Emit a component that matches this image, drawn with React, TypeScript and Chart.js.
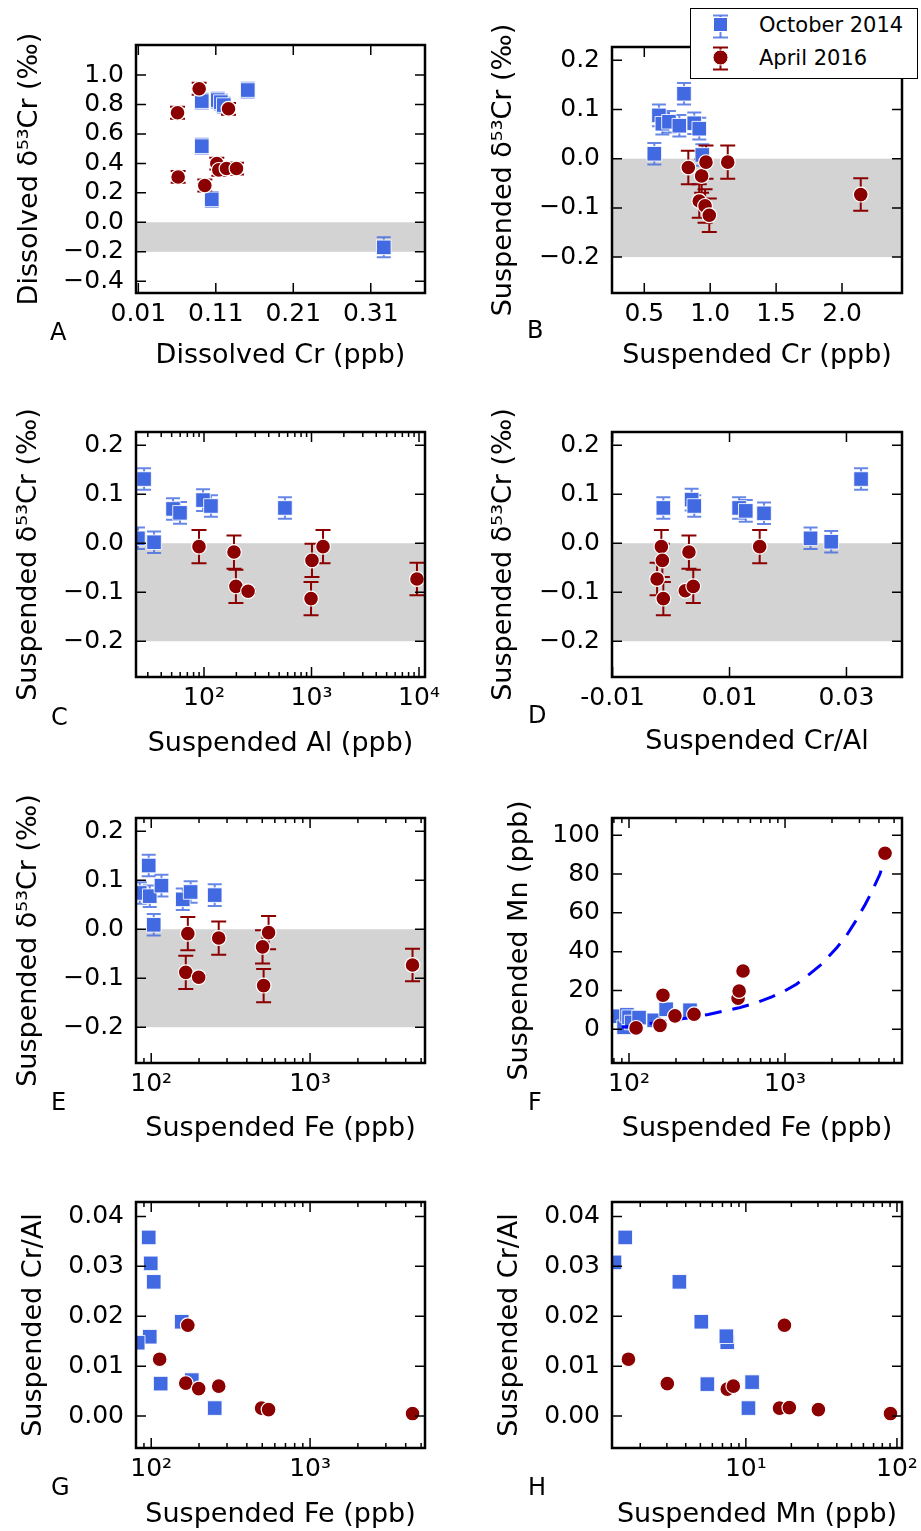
import React, { useEffect, useRef } from 'react';
import { Chart, registerables } from 'chart.js';

Chart.register(...registerables);

const FONT = 'DejaVu Sans';
const TICK_SIZE = 25;
const TITLE_SIZE = 27;
const BLUE = '#4169e1';
const RED = '#8b0000';

const seriesNames = ['October 2014', 'April 2016'];
const bandRange = [-0.2, 0];

// ---------- tick values / labels ----------
const aXTicks = [0.01, 0.11, 0.21, 0.31];
const aXLabels = ['0.01', '0.11', '0.21', '0.31'];
const aYTicks = [1.0, 0.8, 0.6, 0.4, 0.2, 0.0, -0.2, -0.4];
const aYLabels = ['1.0', '0.8', '0.6', '0.4', '0.2', '0.0', '\u22120.2', '\u22120.4'];
const d53Ticks = [0.2, 0.1, 0.0, -0.1, -0.2];
const d53Labels = ['0.2', '0.1', '0.0', '\u22120.1', '\u22120.2'];
const bXTicks = [0.5, 1.0, 1.5, 2.0];
const bXLabels = ['0.5', '1.0', '1.5', '2.0'];
const cXTicks = [100, 1000, 10000];
const cXLabels = ['10\u00b2', '10\u00b3', '10\u2074'];
const dXTicks = [-0.01, 0.01, 0.03];
const dXLabels = ['-0.01', '0.01', '0.03'];
const feTicks = [100, 1000];
const feLabels = ['10\u00b2', '10\u00b3'];
const mnYTicks = [100, 80, 60, 40, 20, 0];
const mnYLabels = ['100', '80', '60', '40', '20', '0'];
const crAlTicks = [0.04, 0.03, 0.02, 0.01, 0.0];
const crAlLabels = ['0.04', '0.03', '0.02', '0.01', '0.00'];
const mnXTicks = [10, 100];
const mnXLabels = ['10\u00b9', '10\u00b2'];

// ---------- Panel A : dissolved ----------
const aBlueCr = [0.0919, 0.1126, 0.1165, 0.1203, 0.1513, 0.0919, 0.1048, 0.3268];
const aBlueD53 = [0.823, 0.830, 0.816, 0.796, 0.898, 0.517, 0.156, -0.170];
const aBlueErr = [0.05, 0.05, 0.05, 0.05, 0.05, 0.05, 0.05, 0.068];
const aRedCr = [0.0885, 0.0606, 0.1264, 0.0614, 0.0958, 0.1113, 0.1139, 0.1238, 0.1367];
const aRedD53 = [0.907, 0.744, 0.771, 0.308, 0.250, 0.399, 0.356, 0.365, 0.365];
const aRedErr = [0.04, 0.04, 0.04, 0.04, 0.04, 0.04, 0.04, 0.04, 0.04];

// ---------- Panel B : suspended Cr ----------
const bBlueCr = [0.576, 0.611, 0.637, 0.687, 0.766, 0.801, 0.879, 0.917, 0.940];
const bBlueD53 = [0.010, 0.088, 0.071, 0.075, 0.067, 0.132, 0.072, 0.061, 0.0075];
const bBlueErr = [0.022, 0.022, 0.022, 0.022, 0.022, 0.022, 0.022, 0.022, 0.022];
const bRedCr = [0.834, 0.935, 0.917, 0.961, 0.993, 0.968, 1.133, 2.142];
const bRedD53 = [-0.018, -0.035, -0.086, -0.096, -0.115, -0.007, -0.007, -0.073];
const bRedErr = [0.034, 0.034, 0.034, 0.034, 0.034, 0.034, 0.034, 0.033];

// ---------- Panel C : suspended Al ----------
const cBlueAl = [24.3, 27.7, 34.3, 51.5, 59.8, 97.9, 116, 566];
const cBlueD53 = [0.010, 0.131, 0.002, 0.070, 0.062, 0.088, 0.076, 0.072];
const cBlueErr = [0.022, 0.022, 0.022, 0.022, 0.022, 0.022, 0.022, 0.022];
const cRedAl = [89.8, 190, 198, 257, 1010, 990, 1280, 9570];
const cRedD53 = [-0.007, -0.018, -0.088, -0.098, -0.035, -0.113, -0.007, -0.073];
const cRedErr = [0.034, 0.034, 0.034, 0.004, 0.034, 0.034, 0.034, 0.033];

// ---------- Panel D : suspended Cr/Al ----------
const dBlueCrAl = [-0.00132, 0.00352, 0.00397, 0.01164, 0.01278, 0.0159, 0.02386, 0.02739, 0.0325];
const dBlueD53 = [0.072, 0.089, 0.076, 0.072, 0.066, 0.061, 0.010, 0.003, 0.131];
const dBlueErr = [0.022, 0.022, 0.022, 0.022, 0.022, 0.022, 0.022, 0.022, 0.022];
const dRedCrAl = [-0.00239, -0.00166, -0.00149, -0.00132, 0.00243, 0.00306, 0.0038, 0.01516];
const dRedD53 = [-0.073, -0.007, -0.035, -0.113, -0.097, -0.018, -0.088, -0.007];
const dRedErr = [0.033, 0.034, 0.034, 0.034, 0.004, 0.034, 0.034, 0.034];

// ---------- Panel E : suspended Fe ----------
const eBlueFe = [84.7, 96.4, 97.9, 116, 103.7, 158, 177, 251];
const eBlueD53 = [0.074, 0.130, 0.0675, 0.089, 0.009, 0.061, 0.076, 0.0696];
const eBlueErr = [0.022, 0.022, 0.022, 0.022, 0.022, 0.022, 0.022, 0.022];
const eRedFe = [170, 165, 199, 266, 502, 510, 548, 4415];
const eRedD53 = [-0.009, -0.088, -0.098, -0.018, -0.036, -0.115, -0.007, -0.073];
const eRedErr = [0.034, 0.034, 0.004, 0.034, 0.034, 0.034, 0.034, 0.033];

// ---------- Panel F : Mn vs Fe ----------
const fBlueFe = [84, 93, 97, 100, 104, 116, 145, 173, 246];
const fBlueMn = [6.7, 1.0, 7.4, 6.2, 3.5, 6.0, 4.6, 10.3, 9.8];
const fRedFe = [111, 158, 165, 197, 261, 500, 508, 538, 4375];
const fRedMn = [0.7, 2.0, 17.5, 6.9, 7.7, 16.0, 19.7, 30.0, 90.7];
const fFitFe = [90, 115, 158, 207, 258, 322, 402, 515, 643, 822, 1000, 1190, 1448, 1715, 2146, 2485, 2809, 3264, 3610, 4060, 4400];
const fFitMn = [1.0, 2.1, 3.8, 5.2, 6.2, 7.6, 9.3, 11.2, 13.4, 16.7, 19.8, 23.3, 28.7, 33.5, 42.0, 48.5, 55.2, 64.3, 71.1, 80.0, 89.5];

// ---------- Panel G : Cr/Al vs Fe ----------
const gBlueFe = [96.4, 99.3, 103.7, 155.6, 97.9, 82.2, 114.7, 180, 251];
const gBlueCrAl = [0.0358, 0.0306, 0.0269, 0.0189, 0.0159, 0.0147, 0.0065, 0.0072, 0.0016];
const gRedFe = [113, 165, 170, 199, 266, 495, 548, 4415];
const gRedCrAl = [0.0114, 0.0066, 0.0182, 0.0055, 0.006, 0.0016, 0.0013, 0.0005];

// ---------- Panel H : Cr/Al vs Mn ----------
const hBlueMn = [1.35, 1.59, 3.63, 5.07, 7.53, 7.43, 5.56, 11.0, 10.4];
const hBlueCrAl = [0.0308, 0.0358, 0.0269, 0.0189, 0.0148, 0.016, 0.0064, 0.0068, 0.0016];
const hRedMn = [1.67, 3.02, 7.53, 8.26, 16.7, 18.0, 19.4, 30.2, 90.6];
const hRedCrAl = [0.0114, 0.0065, 0.0054, 0.006, 0.0016, 0.0182, 0.0017, 0.0013, 0.0005];

type Rect = { l: number; t: number; r: number; b: number };
type Box = { x: number; y: number; w: number; h: number };
type Series = { x: number[]; y: number[]; err?: number[] };
type Spec = {
  key: string;
  box: Box;
  plot: Rect;
  xType: 'linear' | 'logarithmic';
  xMin: number; xMax: number; xTicks: number[]; xLabels: string[];
  yMin: number; yMax: number; yTicks: number[]; yLabels: string[];
  xTitle: string; yTitle: string; xTitleMid: number; yTitleMid: number;
  blue: Series; red: Series; band?: number[]; fit?: Series;
};

const D53_TITLE = 'Suspended \u03b4\u2075\u00b3Cr (\u2030)';

const specs: Spec[] = [
  {
    key: 'A', box: { x: 0, y: 0, w: 460, h: 383 }, plot: { l: 136, t: 45, r: 425, b: 293 },
    xType: 'linear', xMin: 0.007, xMax: 0.38, xTicks: aXTicks, xLabels: aXLabels,
    yMin: -0.48, yMax: 1.204, yTicks: aYTicks, yLabels: aYLabels,
    xTitle: 'Dissolved Cr (ppb)', yTitle: 'Dissolved \u03b4\u2075\u00b3Cr (\u2030)', xTitleMid: 356, yTitleMid: 30,
    blue: { x: aBlueCr, y: aBlueD53, err: aBlueErr }, red: { x: aRedCr, y: aRedD53, err: aRedErr }, band: bandRange,
  },
  {
    key: 'B', box: { x: 460, y: 0, w: 461, h: 383 }, plot: { l: 612, t: 47, r: 902, b: 293 },
    xType: 'linear', xMin: 0.255, xMax: 2.455, xTicks: bXTicks, xLabels: bXLabels,
    yMin: -0.273, yMax: 0.227, yTicks: d53Ticks, yLabels: d53Labels,
    xTitle: 'Suspended Cr (ppb)', yTitle: D53_TITLE, xTitleMid: 356, yTitleMid: 503.5,
    blue: { x: bBlueCr, y: bBlueD53, err: bBlueErr }, red: { x: bRedCr, y: bRedD53, err: bRedErr }, band: bandRange,
  },
  {
    key: 'C', box: { x: 0, y: 383, w: 460, h: 385 }, plot: { l: 136, t: 432, r: 425, b: 677 },
    xType: 'logarithmic', xMin: 23.3, xMax: 11370, xTicks: cXTicks, xLabels: cXLabels,
    yMin: -0.273, yMax: 0.227, yTicks: d53Ticks, yLabels: d53Labels,
    xTitle: 'Suspended Al (ppb)', yTitle: D53_TITLE, xTitleMid: 744, yTitleMid: 28.5,
    blue: { x: cBlueAl, y: cBlueD53, err: cBlueErr }, red: { x: cRedAl, y: cRedD53, err: cRedErr }, band: bandRange,
  },
  {
    key: 'D', box: { x: 460, y: 383, w: 461, h: 385 }, plot: { l: 612, t: 432, r: 902, b: 677 },
    xType: 'linear', xMin: -0.0101, xMax: 0.0395, xTicks: dXTicks, xLabels: dXLabels,
    yMin: -0.273, yMax: 0.227, yTicks: d53Ticks, yLabels: d53Labels,
    xTitle: 'Suspended Cr/Al', yTitle: D53_TITLE, xTitleMid: 742, yTitleMid: 503.5,
    blue: { x: dBlueCrAl, y: dBlueD53, err: dBlueErr }, red: { x: dRedCrAl, y: dRedD53, err: dRedErr }, band: bandRange,
  },
  {
    key: 'E', box: { x: 0, y: 768, w: 460, h: 382 }, plot: { l: 136, t: 818, r: 425, b: 1063 },
    xType: 'logarithmic', xMin: 80.2, xMax: 5290, xTicks: feTicks, xLabels: feLabels,
    yMin: -0.273, yMax: 0.227, yTicks: d53Ticks, yLabels: d53Labels,
    xTitle: 'Suspended Fe (ppb)', yTitle: D53_TITLE, xTitleMid: 1129, yTitleMid: 28.5,
    blue: { x: eBlueFe, y: eBlueD53, err: eBlueErr }, red: { x: eRedFe, y: eRedD53, err: eRedErr }, band: bandRange,
  },
  {
    key: 'F', box: { x: 460, y: 768, w: 461, h: 382 }, plot: { l: 612, t: 818, r: 902, b: 1063 },
    xType: 'logarithmic', xMin: 77.8, xMax: 5620, xTicks: feTicks, xLabels: feLabels,
    yMin: -17.4, yMax: 108.9, yTicks: mnYTicks, yLabels: mnYLabels,
    xTitle: 'Suspended Fe (ppb)', yTitle: 'Suspended Mn (ppb)', xTitleMid: 1129, yTitleMid: 520,
    blue: { x: fBlueFe, y: fBlueMn }, red: { x: fRedFe, y: fRedMn }, fit: { x: fFitFe, y: fFitMn },
  },
  {
    key: 'G', box: { x: 0, y: 1150, w: 460, h: 381 }, plot: { l: 136, t: 1202, r: 425, b: 1448 },
    xType: 'logarithmic', xMin: 80.2, xMax: 5290, xTicks: feTicks, xLabels: feLabels,
    yMin: -0.0064, yMax: 0.0429, yTicks: crAlTicks, yLabels: crAlLabels,
    xTitle: 'Suspended Fe (ppb)', yTitle: 'Suspended Cr/Al', xTitleMid: 1515, yTitleMid: 33.5,
    blue: { x: gBlueFe, y: gBlueCrAl }, red: { x: gRedFe, y: gRedCrAl },
  },
  {
    key: 'H', box: { x: 460, y: 1150, w: 461, h: 381 }, plot: { l: 612, t: 1202, r: 902, b: 1448 },
    xType: 'logarithmic', xMin: 1.3, xMax: 108, xTicks: mnXTicks, xLabels: mnXLabels,
    yMin: -0.0064, yMax: 0.0429, yTicks: crAlTicks, yLabels: crAlLabels,
    xTitle: 'Suspended Mn (ppb)', yTitle: 'Suspended Cr/Al', xTitleMid: 1515, yTitleMid: 510,
    blue: { x: hBlueMn, y: hBlueCrAl }, red: { x: hRedMn, y: hRedCrAl },
  },
];

const letters = [
  { t: 'A', x: 50, base: 340 }, { t: 'B', x: 527, base: 338 },
  { t: 'C', x: 51, base: 725 }, { t: 'D', x: 528, base: 723 },
  { t: 'E', x: 51, base: 1110 }, { t: 'F', x: 528, base: 1110 },
  { t: 'G', x: 51, base: 1495 }, { t: 'H', x: 528, base: 1495 },
];

function minorLogTicks(min: number, max: number): number[] {
  const out: number[] = [];
  for (let k = Math.floor(Math.log10(min)); k <= Math.ceil(Math.log10(max)); k++) {
    for (let m = 2; m <= 9; m++) {
      const v = m * Math.pow(10, k);
      if (v > min && v < max) out.push(v);
    }
  }
  return out;
}

function decor(s: Spec) {
  return {
    id: 'decor' + s.key,
    beforeDatasetsDraw(chart: any) {
      const { ctx, chartArea: a, scales } = chart;
      const xs = scales.x, ys = scales.y;
      ctx.save();
      ctx.beginPath();
      ctx.rect(a.left, a.top, a.right - a.left, a.bottom - a.top);
      ctx.clip();
      if (s.band) {
        const y0 = ys.getPixelForValue(s.band[0]);
        const y1 = ys.getPixelForValue(s.band[1]);
        ctx.fillStyle = '#d3d3d3';
        ctx.fillRect(a.left, Math.min(y0, y1), a.right - a.left, Math.abs(y1 - y0));
      }
      const drawErr = (ser: Series, color: string, cap: number) => {
        if (!ser.err) return;
        ctx.strokeStyle = color;
        ctx.lineWidth = 2;
        ser.x.forEach((xv, i) => {
          const px = xs.getPixelForValue(xv);
          const yt = ys.getPixelForValue(ser.y[i] + ser.err![i]);
          const yb = ys.getPixelForValue(ser.y[i] - ser.err![i]);
          ctx.beginPath();
          ctx.moveTo(px, yt); ctx.lineTo(px, yb);
          ctx.moveTo(px - cap, yt); ctx.lineTo(px + cap, yt);
          ctx.moveTo(px - cap, yb); ctx.lineTo(px + cap, yb);
          ctx.stroke();
        });
      };
      drawErr(s.blue, 'rgba(65,105,225,0.8)', 7);
      drawErr(s.red, RED, 7.5);
      ctx.restore();
    },
    afterDraw(chart: any) {
      const { ctx, chartArea: a, scales } = chart;
      const xs = scales.x, ys = scales.y;
      ctx.save();
      ctx.strokeStyle = '#000';
      ctx.lineWidth = 1.5;
      const major = 10, minor = 5;
      const xMark = (v: number, len: number) => {
        const px = xs.getPixelForValue(v);
        if (px < a.left - 0.5 || px > a.right + 0.5) return;
        ctx.beginPath();
        ctx.moveTo(px, a.bottom); ctx.lineTo(px, a.bottom - len);
        ctx.moveTo(px, a.top); ctx.lineTo(px, a.top + len);
        ctx.stroke();
      };
      const yMark = (v: number, len: number) => {
        const py = ys.getPixelForValue(v);
        if (py < a.top - 0.5 || py > a.bottom + 0.5) return;
        ctx.beginPath();
        ctx.moveTo(a.left, py); ctx.lineTo(a.left + len, py);
        ctx.moveTo(a.right, py); ctx.lineTo(a.right - len, py);
        ctx.stroke();
      };
      s.xTicks.forEach((v) => xMark(v, major));
      if (s.xType === 'logarithmic') minorLogTicks(s.xMin, s.xMax).forEach((v) => xMark(v, minor));
      s.yTicks.forEach((v) => yMark(v, major));
      ctx.lineWidth = 2.5;
      ctx.strokeRect(a.left, a.top, a.right - a.left, a.bottom - a.top);
      ctx.restore();
    },
  };
}

function buildConfig(s: Spec): any {
  const pts = (xs: number[], ys: number[]) => xs.map((x, i) => ({ x, y: ys[i] }));
  const datasets: any[] = [
    {
      label: seriesNames[1], data: pts(s.red.x, s.red.y), pointStyle: 'circle', pointRadius: 7.4,
      pointBorderWidth: 1.2, pointBackgroundColor: RED, pointBorderColor: '#ffffff', showLine: false, clip: 0,
    },
  ];
  if (s.fit) {
    datasets.push({
      label: 'fit', data: pts(s.fit.x, s.fit.y), showLine: true, borderColor: '#0000ff', borderWidth: 3,
      borderDash: [17, 11], pointRadius: 0, fill: false, tension: 0, clip: 0,
    });
  }
  datasets.push({
    label: seriesNames[0], data: pts(s.blue.x, s.blue.y), pointStyle: 'rect', pointRadius: 10.3,
    pointBorderWidth: 1, pointBackgroundColor: BLUE, pointBorderColor: 'rgba(255,255,255,0.85)', showLine: false, clip: 0,
  });

  const xAxisH = s.box.y + s.box.h - s.plot.b;
  const yAxisW = s.plot.l - s.box.x;
  const half = (TITLE_SIZE * 1.2) / 2;
  const xTitlePad = Math.max(0, s.box.y + s.box.h - s.xTitleMid - half);
  const yTitlePad = Math.max(0, s.yTitleMid - s.box.x - half);
  const tickFont = { family: FONT, size: TICK_SIZE };
  const titleFont = { family: FONT, size: TITLE_SIZE };

  return {
    type: 'scatter',
    data: { datasets },
    options: {
      responsive: false,
      animation: false,
      devicePixelRatio: 1,
      events: [],
      layout: { padding: { left: 0, top: s.plot.t - s.box.y, right: s.box.x + s.box.w - s.plot.r, bottom: 0 } },
      plugins: { legend: { display: false }, tooltip: { enabled: false } },
      scales: {
        x: {
          type: s.xType, position: 'bottom', min: s.xMin, max: s.xMax,
          grid: { display: false, drawTicks: false }, border: { display: false },
          afterBuildTicks: (sc: any) => { sc.ticks = s.xTicks.map((v) => ({ value: v })); },
          afterFit: (sc: any) => { sc.height = xAxisH; sc.paddingLeft = 0; sc.paddingRight = 0; sc.paddingTop = 0; sc.paddingBottom = 0; },
          ticks: {
            autoSkip: false, maxRotation: 0, minRotation: 0, padding: 6, color: '#000', font: tickFont,
            callback: (_v: any, i: number) => s.xLabels[i],
          },
          title: { display: true, text: s.xTitle, color: '#000', font: titleFont, padding: { top: 0, bottom: xTitlePad } },
        },
        y: {
          type: 'linear', position: 'left', min: s.yMin, max: s.yMax,
          grid: { display: false, drawTicks: false }, border: { display: false },
          afterBuildTicks: (sc: any) => { sc.ticks = s.yTicks.map((v) => ({ value: v })); },
          afterFit: (sc: any) => { sc.width = yAxisW; sc.paddingLeft = 0; sc.paddingRight = 0; sc.paddingTop = 0; sc.paddingBottom = 0; },
          ticks: {
            autoSkip: false, padding: 12, color: '#000', font: tickFont,
            callback: (_v: any, i: number) => s.yLabels[i],
          },
          title: { display: true, text: s.yTitle, color: '#000', font: titleFont, padding: { top: yTitlePad, bottom: 0 } },
        },
      },
    },
    plugins: [decor(s)],
  };
}

function Panel({ spec }: { spec: Spec }) {
  const ref = useRef<HTMLCanvasElement>(null);
  useEffect(() => {
    if (!ref.current) return;
    const chart = new Chart(ref.current, buildConfig(spec));
    return () => chart.destroy();
  }, [spec]);
  return (
    <canvas
      ref={ref}
      width={spec.box.w}
      height={spec.box.h}
      style={{ position: 'absolute', left: spec.box.x, top: spec.box.y, width: spec.box.w, height: spec.box.h }}
    />
  );
}

function Legend() {
  const textStyle = (top: number): React.CSSProperties => ({
    position: 'absolute', left: 68, top, fontSize: 21, lineHeight: '21px', fontFamily: FONT, color: '#000', whiteSpace: 'nowrap',
  });
  return (
    <div
      style={{
        position: 'absolute', left: 690, top: 8, width: 228, height: 71, boxSizing: 'border-box',
        border: '1.5px solid #000', background: '#fff',
      }}
    >
      <svg width={60} height={68} style={{ position: 'absolute', left: 0, top: 0 }}>
        <g stroke="rgba(65,105,225,0.8)" strokeWidth={2}>
          <line x1={29.5} y1={6.5} x2={29.5} y2={28.5} />
          <line x1={22} y1={6.5} x2={37} y2={6.5} />
          <line x1={22} y1={28.5} x2={37} y2={28.5} />
        </g>
        <rect x={22.5} y={8.5} width={14} height={14} fill={BLUE} stroke="#fff" strokeWidth={1} />
        <g stroke={RED} strokeWidth={2}>
          <line x1={29.5} y1={38.5} x2={29.5} y2={60.5} />
          <line x1={22} y1={38.5} x2={37} y2={38.5} />
          <line x1={22} y1={60.5} x2={37} y2={60.5} />
        </g>
        <circle cx={29.5} cy={48.5} r={7.5} fill={RED} stroke="#fff" strokeWidth={1} />
      </svg>
      <div style={textStyle(5.7)}>{seriesNames[0]}</div>
      <div style={textStyle(38.7)}>{seriesNames[1]}</div>
    </div>
  );
}

export default function App() {
  return (
    <div style={{ position: 'absolute', left: 0, top: 0, width: 921, height: 1531, background: '#fff', overflow: 'hidden' }}>
      {specs.map((s) => (
        <Panel key={s.key} spec={s} />
      ))}
      {letters.map((l) => (
        <div
          key={l.t}
          style={{
            position: 'absolute', left: l.x, top: l.base - 0.846 * 24, fontSize: 24, lineHeight: '24px',
            fontFamily: FONT, color: '#000',
          }}
        >
          {l.t}
        </div>
      ))}
      <Legend />
    </div>
  );
}
